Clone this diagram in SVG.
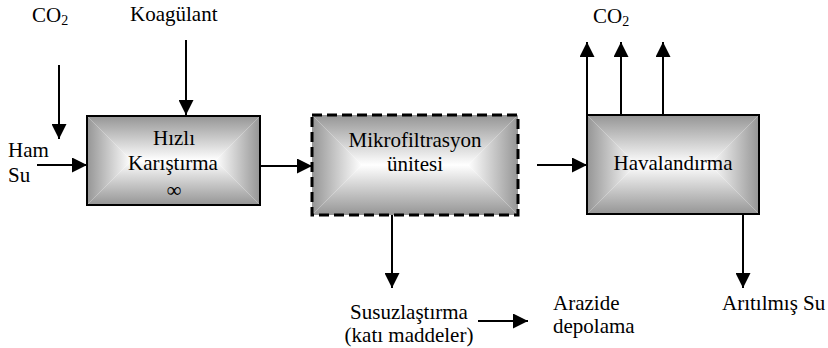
<svg xmlns="http://www.w3.org/2000/svg" width="828" height="348" viewBox="0 0 828 348">
<style>
text{font-family:'Liberation Serif','DejaVu Serif','Times New Roman',serif;font-size:21px;fill:#000}
.c{text-anchor:middle}
.ln{stroke:#000;stroke-width:2;fill:none}
.box{fill:none;stroke:#000;stroke-width:2}
.dash{fill:none;stroke:#000;stroke-width:3;stroke-dasharray:10 5}
</style>
<defs>
<linearGradient id="gT" x1="0" y1="0" x2="0" y2="1"><stop offset="0" stop-color="#959595"/><stop offset="1" stop-color="#ffffff"/></linearGradient>
<linearGradient id="gB" x1="0" y1="1" x2="0" y2="0"><stop offset="0" stop-color="#959595"/><stop offset="1" stop-color="#ffffff"/></linearGradient>
<linearGradient id="gL" x1="0" y1="0" x2="1" y2="0"><stop offset="0" stop-color="#959595"/><stop offset="1" stop-color="#ffffff"/></linearGradient>
<linearGradient id="gR" x1="1" y1="0" x2="0" y2="0"><stop offset="0" stop-color="#959595"/><stop offset="1" stop-color="#ffffff"/></linearGradient>
<marker id="ah" viewBox="0 0 15 15" refX="15" refY="7.5" markerWidth="15" markerHeight="15" markerUnits="userSpaceOnUse" orient="auto">
<path d="M0,0 L15,7.5 L0,15 z" fill="#000"/>
</marker>
</defs>

<g id="node-hizli">
<polygon points="87,116 260,116 215.5,160.5 131.5,160.5" fill="url(#gT)"/>
<polygon points="87,205 260,205 215.5,160.5 131.5,160.5" fill="url(#gB)"/>
<polygon points="87,116 131.5,160.5 87,205" fill="url(#gL)"/>
<polygon points="260,116 215.5,160.5 260,205" fill="url(#gR)"/>
<rect class="box" x="87" y="116" width="173" height="89"/>
<text class="c" x="174" y="145" style="font-family:'Liberation Serif',serif">Hızlı</text>
<text class="c" x="173" y="170" style="font-family:'Liberation Serif',serif">Karıştırma</text>
<text class="c" x="174" y="197" style="font-family:'Liberation Serif',serif">∞</text>
</g>

<g id="node-mikro">
<polygon points="312,115 518,115 468,165 362,165" fill="url(#gT)"/>
<polygon points="312,215 518,215 468,165 362,165" fill="url(#gB)"/>
<polygon points="312,115 362,165 312,215" fill="url(#gL)"/>
<polygon points="518,115 468,165 518,215" fill="url(#gR)"/>
<rect class="dash" x="312" y="115" width="206" height="100"/>
<text class="c" x="415" y="147" style="font-family:'Liberation Serif',serif">Mikrofiltrasyon</text>
<text class="c" x="415" y="171" style="font-family:'Liberation Serif',serif">ünitesi</text>
</g>

<g id="node-haval">
<polygon points="587,115 759,115 709.5,164.5 636.5,164.5" fill="url(#gT)"/>
<polygon points="587,214 759,214 709.5,164.5 636.5,164.5" fill="url(#gB)"/>
<polygon points="587,115 636.5,164.5 587,214" fill="url(#gL)"/>
<polygon points="759,115 709.5,164.5 759,214" fill="url(#gR)"/>
<rect class="box" x="587" y="115" width="172" height="99"/>
<text class="c" x="673" y="170" style="font-family:'Liberation Serif',serif">Havalandırma</text>
</g>

<g id="labels" style="font-family:'Liberation Serif',serif">
<text x="32" y="22" style="font-family:'Liberation Serif',serif">CO<tspan font-size="14" dy="3">2</tspan></text>
<text x="593" y="23" style="font-family:'Liberation Serif',serif">CO<tspan font-size="14" dy="3">2</tspan></text>
<text x="130" y="21" style="font-family:'Liberation Serif',serif">Koagülant</text>
<text x="8" y="157" style="font-family:'Liberation Serif',serif">Ham</text>
<text x="8" y="182" style="font-family:'Liberation Serif',serif">Su</text>
<text class="c" x="409" y="319" style="font-family:'Liberation Serif',serif">Susuzlaştırma</text>
<text class="c" x="409" y="342" style="font-family:'Liberation Serif',serif">(katı maddeler)</text>
<text x="553" y="310" style="font-family:'Liberation Serif',serif">Arazide</text>
<text x="553" y="333" style="font-family:'Liberation Serif',serif">depolama</text>
<text x="722" y="310" style="font-family:'Liberation Serif',serif">Arıtılmış Su</text>
</g>

<g id="connectors">
<line class="ln" x1="59" y1="65" x2="59" y2="139" marker-end="url(#ah)"/>
<line class="ln" x1="186" y1="40" x2="186" y2="115" marker-end="url(#ah)"/>
<line class="ln" x1="37" y1="165" x2="87" y2="165" marker-end="url(#ah)"/>
<line class="ln" x1="260" y1="166" x2="312" y2="166" marker-end="url(#ah)"/>
<line class="ln" x1="537" y1="165" x2="587" y2="165" marker-end="url(#ah)"/>
<line class="ln" x1="587" y1="115" x2="587" y2="42" marker-end="url(#ah)"/>
<line class="ln" x1="621" y1="115" x2="621" y2="42" marker-end="url(#ah)"/>
<line class="ln" x1="663" y1="115" x2="663" y2="42" marker-end="url(#ah)"/>
<line class="ln" x1="743" y1="214" x2="743" y2="288" marker-end="url(#ah)"/>
<line class="ln" x1="392" y1="215" x2="392" y2="288" marker-end="url(#ah)"/>
<line class="ln" x1="478" y1="321" x2="528" y2="321" marker-end="url(#ah)"/>
</g>
</svg>
